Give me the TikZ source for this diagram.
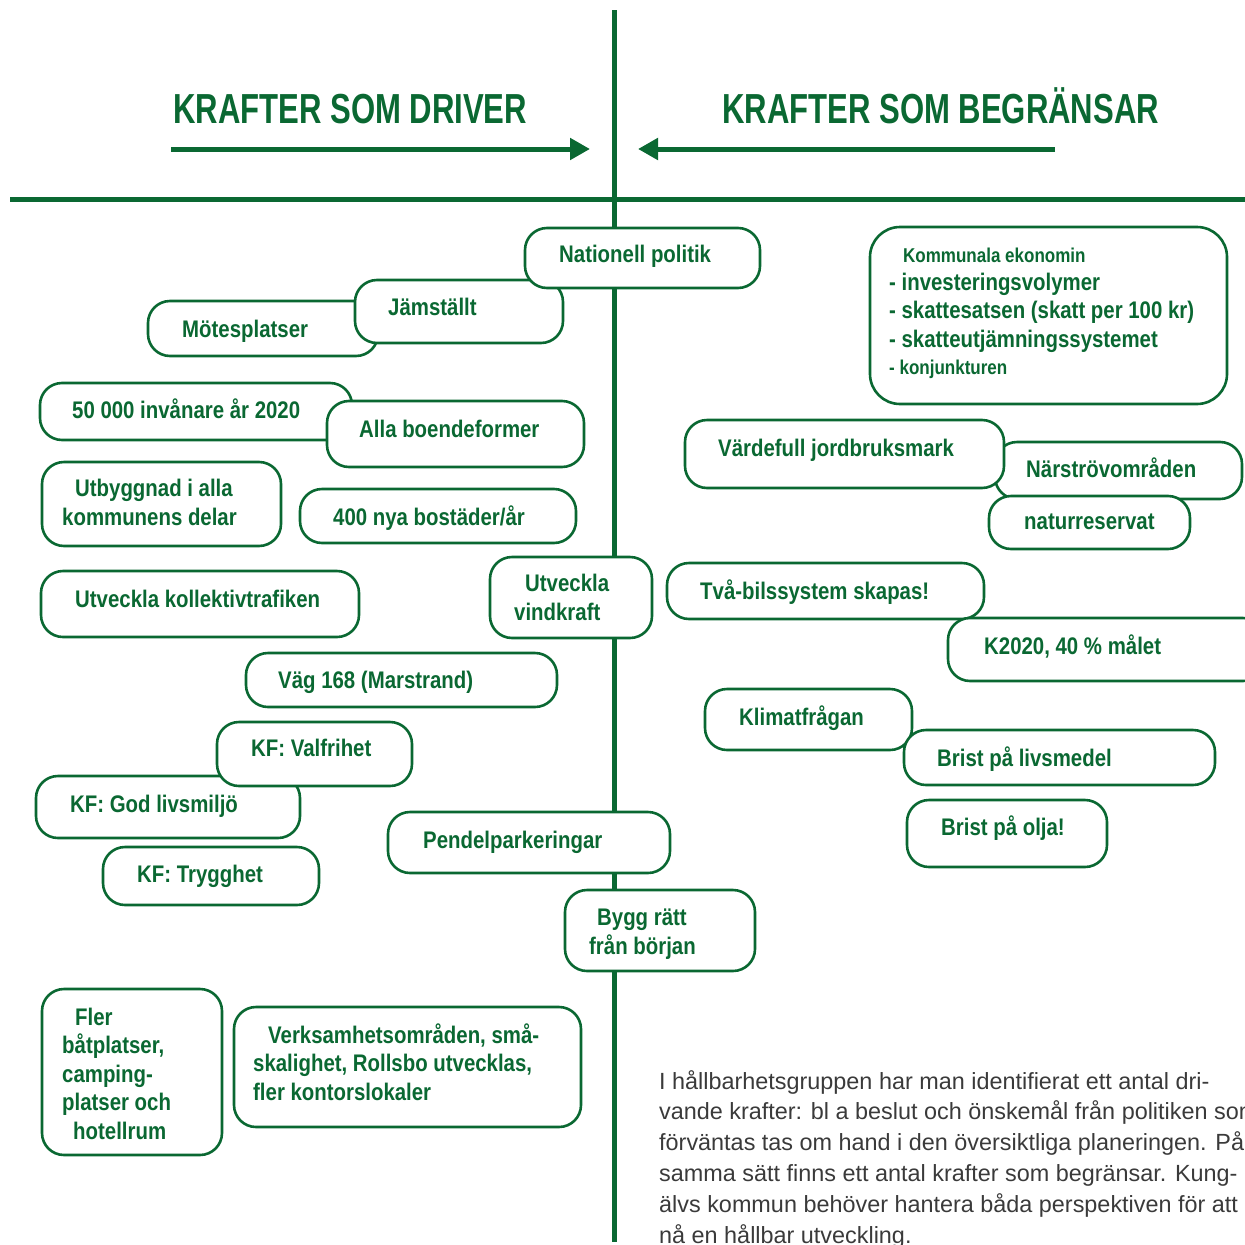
\documentclass[tikz,border=0pt]{standalone}
\usepackage{fontspec}
\setmainfont{Liberation Sans}
\newfontfamily\boxfont[FakeStretch=0.85]{Liberation Sans}
\newfontfamily\titlefont[FakeStretch=0.74]{Liberation Sans}
\usetikzlibrary{arrows.meta}
\definecolor{krgreen}{HTML}{0A6832}
\definecolor{bodygray}{HTML}{3A3A3A}

\begin{document}
\begin{tikzpicture}[x=1pt,y=-1pt,
    kline/.style={krgreen,line width=5pt},
    kbox/.style={draw=krgreen,fill=white,line width=2.6pt,rounded corners=22pt},
    ktext/.style={text=krgreen,inner sep=0pt,anchor=base west,align=left,
      font=\boxfont\bfseries\fontsize{24}{28.5}\selectfont},
    ksmall/.style={ktext,font=\boxfont\bfseries\fontsize{20}{28}\selectfont},
    ktitle/.style={text=krgreen,inner sep=0pt,anchor=base west,
      font=\titlefont\bfseries\fontsize{42}{46}\selectfont}]
  \useasboundingbox (0,0) rectangle (1245,1245);

  % axes and headings
  \draw[kline] (10,199) -- (1245,199);
  \draw[kline] (614,10) -- (614,1242);
  \node[ktitle] (driver) at (173,123) {KRAFTER SOM DRIVER};
  \node[ktitle] (begr) at (722,123) {KRAFTER SOM BEGRÄNSAR};
  \draw[kline,-{Triangle[length=20pt,width=21pt]}] (171,149) -- (590,149);
  \draw[kline,-{Triangle[length=20pt,width=21pt]}] (1055,149) -- (638,149);

  % driving forces (base = last line)
  \draw[kbox] (148,301) rectangle (378,356);
  \node[ktext] (mote) at (182,337) {Mötesplatser};
  \draw[kbox] (355,280) rectangle (563,343);
  \node[ktext] (jams) at (388,315) {Jämställt};
  \draw[kbox] (525,228) rectangle (760,288);
  \node[ktext] (natpol) at (559,262) {Nationell politik};
  \draw[kbox] (40,383) rectangle (352,440);
  \node[ktext] (invan) at (72,418) {50 000 invånare år 2020};
  \draw[kbox] (327,401) rectangle (584,467);
  \node[ktext] (boende) at (359,437) {Alla boendeformer};
  \draw[kbox] (42,462) rectangle (281,546);
  \node[ktext] (utbygg) at (62,525) {\hspace*{13pt}Utbyggnad i alla\\kommunens delar};
  \draw[kbox] (300,489) rectangle (576,543);
  \node[ktext] (bostad) at (333,525) {400 nya bostäder/år};
  \draw[kbox] (41,571) rectangle (359,637);
  \node[ktext] (koll) at (75,607) {Utveckla kollektivtrafiken};
  \draw[kbox] (490,557) rectangle (652,638);
  \node[ktext] (vind) at (514,620) {\hspace*{11pt}Utveckla\\vindkraft};
  \draw[kbox] (246,653) rectangle (557,707);
  \node[ktext] (vag) at (278,688) {Väg 168 (Marstrand)};
  \draw[kbox] (36,776) rectangle (300,838);
  \node[ktext] (livsm) at (70,812) {KF: God livsmiljö};
  \draw[kbox] (217,722) rectangle (412,786);
  \node[ktext] (valfr) at (251,756) {KF: Valfrihet};
  \draw[kbox] (103,847) rectangle (319,905);
  \node[ktext] (trygg) at (137,882) {KF: Trygghet};
  \draw[kbox] (388,812) rectangle (670,873);
  \node[ktext] (pendel) at (423,848) {Pendelparkeringar};
  \draw[kbox] (565,890) rectangle (755,971);
  \node[ktext] (bygg) at (589,954) {\hspace*{8pt}Bygg rätt\\från början};
  \draw[kbox] (42,989) rectangle (222,1155);
  \node[ktext] (batpl) at (62,1139) {\hspace*{13pt}Fler\\båtplatser,\\camping-\\platser och\\\hspace*{11pt}hotellrum};
  \draw[kbox] (234,1007) rectangle (581,1127);
  \node[ktext] (verks) at (253,1100) {\hspace*{15pt}Verksamhetsområden, små-\\skalighet, Rollsbo utvecklas,\\fler kontorslokaler};

  % restraining forces
  \draw[kbox,rounded corners=30pt] (870,227) rectangle (1227,404);
  \node[ksmall] (ekon) at (903,262) {Kommunala ekonomin};
  \node[ktext] (ekonlist) at (889,347) {- investeringsvolymer\\- skattesatsen (skatt per 100 kr)\\- skatteutjämningssystemet};
  \node[ksmall] (konj) at (889,374) {- konjunkturen};
  \draw[kbox] (995,442) rectangle (1242,499);
  \node[ktext] (narstr) at (1026,477) {Närströvområden};
  \draw[kbox] (685,420) rectangle (1004,488);
  \node[ktext] (jordbr) at (718,456) {Värdefull jordbruksmark};
  \draw[kbox] (989,496) rectangle (1190,549);
  \node[ktext] (natres) at (1024,529) {naturreservat};
  \draw[kbox] (667,563) rectangle (984,619);
  \node[ktext] (tvabil) at (700,599) {Två-bilssystem skapas!};
  \draw[kbox] (948,618) rectangle (1265,681);
  \node[ktext] (malet) at (984,654) {K2020, 40 \% målet};
  \draw[kbox] (705,689) rectangle (912,750);
  \node[ktext] (klimat) at (739,725) {Klimatfrågan};
  \draw[kbox] (904,730) rectangle (1215,785);
  \node[ktext] (livsmed) at (937,766) {Brist på livsmedel};
  \draw[kbox] (907,800) rectangle (1107,867);
  \node[ktext] (olja) at (941,835) {Brist på olja!};

  % caption
  \node[text=bodygray,inner sep=0pt,anchor=base west,align=left,
    font=\fontsize{23.4}{30.8}\selectfont] (info) at (659,1243)
    {I hållbarhetsgruppen har man identifierat ett antal dri-\\
     vande krafter: bl a beslut och önskemål från politiken som\\
     förväntas tas om hand i den översiktliga planeringen. På\\
     samma sätt finns ett antal krafter som begränsar. Kung-\\
     älvs kommun behöver hantera båda perspektiven för att\\
     nå en hållbar utveckling.};
\end{tikzpicture}
\end{document}
